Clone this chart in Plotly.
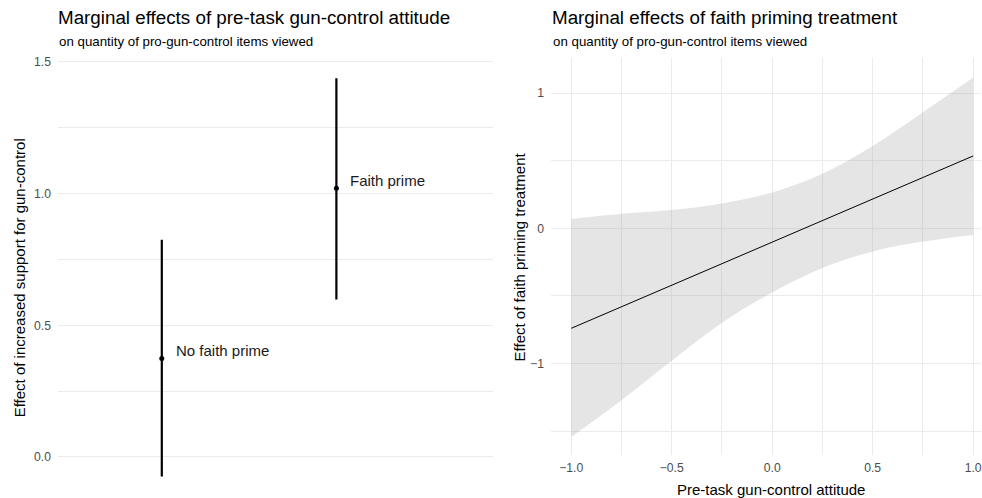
import numpy as np
import plotly.graph_objects as go

# ---- Left panel data ----
groups = ["No faith prime", "Faith prime"]
group_pos = [1, 2]
estimates = [0.374, 1.020]
ci_low = [-0.074, 0.598]
ci_high = [0.825, 1.438]

# ---- Right panel data ----
attitude = [-1.0, -0.75, -0.5, -0.25, 0.0, 0.25, 0.5, 0.75, 1.0]
effect = [-0.740, -0.581, -0.421, -0.262, -0.103, 0.057, 0.216, 0.376, 0.535]
effect_low = [-1.544, -1.272, -0.980, -0.699, -0.475, -0.294, -0.171, -0.098, -0.049]
effect_high = [0.069, 0.108, 0.135, 0.184, 0.265, 0.404, 0.608, 0.858, 1.115]

W, H = 982, 498
GRID = "#EBEBEB"
TICKC = "#4D4D4D"
FONT = "Liberation Sans, Arial, sans-serif"

fig = go.Figure()

est = np.array(estimates)
fig.add_trace(go.Scatter(
    x=group_pos, y=estimates, mode="markers",
    marker=dict(color="black", size=5),
    error_y=dict(type="data", symmetric=False,
                 array=list(np.array(ci_high) - est),
                 arrayminus=list(est - np.array(ci_low)),
                 color="black", thickness=2.2, width=0),
    xaxis="x", yaxis="y", showlegend=False, hoverinfo="skip"))

for gx, gy, lab in zip(group_pos, estimates, groups):
    fig.add_annotation(x=gx, y=gy, xref="x", yref="y", text=lab,
                       showarrow=False, xanchor="left", yanchor="middle",
                       xshift=12, yshift=8,
                       font=dict(size=15, color="#1a1a1a", family=FONT))

# ribbon
fig.add_trace(go.Scatter(x=attitude, y=effect_low, mode="lines",
                         line=dict(width=0, shape="spline"), xaxis="x2", yaxis="y2",
                         showlegend=False, hoverinfo="skip"))
fig.add_trace(go.Scatter(x=attitude, y=effect_high, mode="lines",
                         line=dict(width=0, shape="spline"), fill="tonexty",
                         fillcolor="rgba(153,153,153,0.25)", xaxis="x2", yaxis="y2",
                         showlegend=False, hoverinfo="skip"))
fig.add_trace(go.Scatter(x=attitude, y=effect, mode="lines",
                         line=dict(color="black", width=1), xaxis="x2", yaxis="y2",
                         showlegend=False, hoverinfo="skip"))

def px_x(p):
    return p / W

def px_y(p):
    return 1 - p / H

axis_common = dict(zeroline=False, showline=False, gridcolor=GRID, gridwidth=1.1,
                   ticklabeloverflow="allow",
                   tickfont=dict(size=12.2, color=TICKC, family=FONT))

fig.update_layout(
    width=W, height=H, margin=dict(l=0, r=0, t=0, b=0),
    paper_bgcolor="white", plot_bgcolor="white",
    font=dict(family=FONT, color="black"),
    xaxis=dict(domain=[px_x(58), px_x(494)], range=[0.405, 2.9],
               showgrid=False, showticklabels=False, zeroline=False, anchor="y"),
    yaxis=dict(domain=[px_y(496.7), px_y(55.5)], range=[-0.151, 1.514],
               dtick=0.5, tick0=0, tickformat=".1f", ticklabelstandoff=6,
               minor=dict(dtick=0.25, showgrid=True, gridcolor=GRID, gridwidth=0.6),
               anchor="x", **axis_common),
    xaxis2=dict(domain=[px_x(551.7), 1.0], range=[-1.1, 1.039],
                dtick=0.5, tick0=0, tickformat=".1f", ticklabelstandoff=4,
                minor=dict(dtick=0.25, showgrid=True, gridcolor=GRID, gridwidth=0.6),
                anchor="y2", **axis_common),
    yaxis2=dict(domain=[px_y(455), px_y(55)], range=[-1.679, 1.262],
                dtick=1, tick0=0, ticklabelstandoff=6,
                minor=dict(dtick=0.5, showgrid=True, gridcolor=GRID, gridwidth=0.6),
                anchor="x2", **axis_common),
)

def ann(text, x, y, size, xanchor="left", angle=0, color="black"):
    fig.add_annotation(text=text, x=x, y=y, xref="paper", yref="paper",
                       showarrow=False, xanchor=xanchor, yanchor="middle",
                       textangle=angle, font=dict(size=size, color=color, family=FONT))

ann("Marginal effects of pre-task gun-control attitude", px_x(56.5), px_y(15), 18.8)
ann("on quantity of pro-gun-control items viewed", px_x(57), px_y(39), 13.3)
ann("Marginal effects of faith priming treatment", px_x(551), px_y(15), 18.8)
ann("on quantity of pro-gun-control items viewed", px_x(551.5), px_y(39), 13.3)
ann("Effect of increased support for gun-control", px_x(19), px_y(276), 15,
    xanchor="center", angle=-90)
ann("Effect of faith priming treatment", px_x(519.5), px_y(255), 15,
    xanchor="center", angle=-90)
ann("Pre-task gun-control attitude", px_x(771.7), px_y(489), 15, xanchor="center")

fig.write_html("out.html", config={"displayModeBar": False},
               post_script="document.body.style.margin='0';document.body.style.padding='0';document.body.style.overflow='hidden';")
